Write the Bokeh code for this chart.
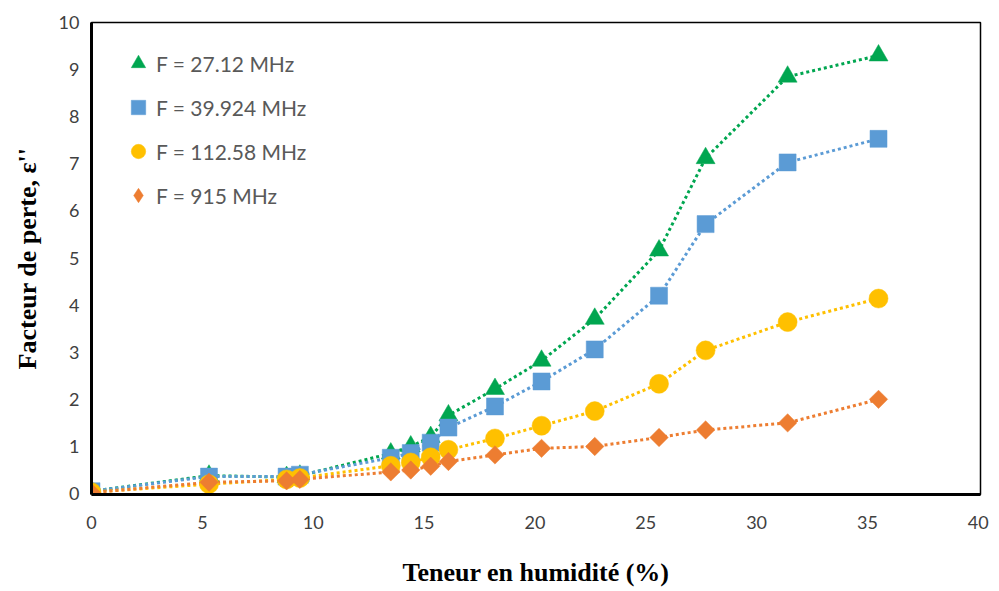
from bokeh.plotting import figure
from bokeh.models import Range1d, Legend, LegendItem, FixedTicker
from bokeh.embed import file_html
from bokeh.resources import INLINE
import math

# Data
moisture = [0, 5.3, 8.8, 9.4, 13.5, 14.4, 15.3, 16.1, 18.2, 20.3, 22.7, 25.6, 27.7, 31.4, 35.5]
f_27 = [0.05, 0.38, 0.35, 0.38, 0.85, 1.0, 1.2, 1.66, 2.22, 2.82, 3.71, 5.16, 7.12, 8.85, 9.3]
f_39 = [0.05, 0.36, 0.36, 0.4, 0.76, 0.86, 1.08, 1.4, 1.85, 2.38, 3.06, 4.2, 5.72, 7.03, 7.53]
f_112 = [0.03, 0.2, 0.3, 0.33, 0.59, 0.66, 0.77, 0.93, 1.17, 1.44, 1.75, 2.33, 3.04, 3.64, 4.14]
f_915 = [0.02, 0.24, 0.27, 0.3, 0.46, 0.5, 0.58, 0.68, 0.82, 0.96, 1.0, 1.19, 1.35, 1.5, 2.0]

labels = ["F = 27.12 MHz", "F = 39.924 MHz", "F = 112.58 MHz", "F = 915 MHz"]
x_ticks = [0, 5, 10, 15, 20, 25, 30, 35, 40]
y_ticks = [0, 1, 2, 3, 4, 5, 6, 7, 8, 9, 10]
x_title = "Teneur en humidité (%)"
y_title = "Facteur de perte, ε''"

p = figure(frame_width=889, frame_height=472, output_backend="svg", toolbar_location=None,
           x_range=Range1d(0, 40.1), y_range=Range1d(-0.02, 10),
           min_border_left=91, min_border_right=10, min_border_top=22, min_border_bottom=10)

p.xgrid.visible = False
p.ygrid.visible = False
p.outline_line_color = "black"
p.outline_line_width = 1.5

for ax in (p.xaxis[0], p.yaxis[0]):
    ax.axis_line_color = "black"
    ax.axis_line_width = 3
    ax.major_tick_line_color = None
    ax.minor_tick_line_color = None
    ax.major_label_text_font = "Lato"
    ax.major_label_text_font_size = "18px"
    ax.major_label_text_color = "#404040"
    ax.axis_label_text_font = "Liberation Serif"
    ax.axis_label_text_font_style = "bold"
    ax.axis_label_text_font_size = "26px"
    ax.axis_label_text_color = "black"

p.xaxis.ticker = FixedTicker(ticks=x_ticks)
p.yaxis.ticker = FixedTicker(ticks=y_ticks)
p.xaxis.major_label_standoff = 15
p.yaxis.major_label_standoff = 6
p.xaxis.axis_label = x_title
p.yaxis.axis_label = y_title
p.xaxis.axis_label_standoff = 26
p.yaxis.axis_label_standoff = 14

green = "#00A650"
blue = "#5B9BD5"
yellow = "#FFC000"
orange = "#ED7D31"

series = [
    (f_27, green, "triangle", 19, 0),
    (f_39, blue, "square", 17, 0),
    (f_112, yellow, "circle", 19, 0),
    (f_915, orange, "square", 13, math.pi / 4),
]
legend_markers = ["triangle", "square", "circle", "diamond"]

for vals, col, mk, sz, ang in series:
    p.line(moisture, vals, line_color=col, line_width=3, line_dash="3 3")

items = []
for (vals, col, mk, sz, ang), lab, lmk in zip(series, labels, legend_markers):
    p.scatter(moisture, vals, marker=mk, size=sz, angle=ang,
              fill_color=col, line_color=col, line_width=0.5)
    # off-screen proxy point used only for the legend swatch
    proxy = p.scatter(x=[-100], y=[-100], marker=lmk, size=sz, fill_color=col,
                      line_color=col, line_width=0.5)
    items.append(LegendItem(label=lab, renderers=[proxy]))

legend = Legend(items=items, location=(29, 281))
legend.background_fill_alpha = 0
legend.border_line_color = None
legend.margin = 0
legend.padding = 0
legend.glyph_height = 36
legend.glyph_width = 36
legend.label_height = 36
legend.spacing = 8
legend.label_standoff = 0
legend.label_text_font = "Lato"
legend.label_text_font_size = "21px"
legend.label_text_color = "#595959"
p.add_layout(legend)

open("out.html", "w").write(file_html(p, INLINE))
